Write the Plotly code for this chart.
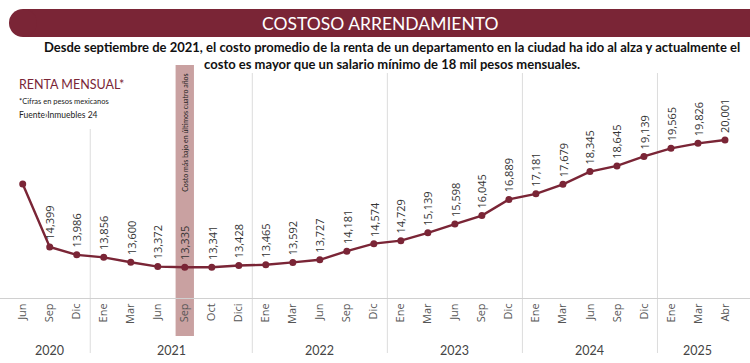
import plotly.graph_objects as go

months = ["Jun", "Sep", "Dic",
          "Ene", "Mar", "Jun", "Sep", "Oct", "Dici",
          "Ene", "Mar", "Jun", "Sep", "Dic",
          "Ene", "Mar", "Jun", "Sep", "Dic",
          "Ene", "Mar", "Jun", "Sep", "Dic",
          "Ene", "Mar", "Abr"]
years = ["2020"] * 3 + ["2021"] * 6 + ["2022"] * 5 + ["2023"] * 5 + ["2024"] * 5 + ["2025"] * 3
rent = [17700, 14399, 13986,
        13856, 13600, 13372, 13335, 13341, 13428,
        13465, 13592, 13727, 14181, 14574,
        14729, 15139, 15598, 16045, 16889,
        17181, 17679, 18345, 18645, 19139,
        19565, 19826, 20001]
show_label = [False] + [True] * 26
lowest_idx = 6
lowest_note = "Costo más bajo en últimos cuatro años"

MAROON = "#7A2536"
x = list(range(len(months)))

# plot area geometry (pixels)
W, H = 750, 363
T, B = 60, 65
PH = H - T - B


def py(px):
    """pixel y -> paper y"""
    return (H - B - px) / PH


fig = go.Figure()
fig.add_trace(go.Scatter(
    x=x, y=rent, mode="lines+markers",
    line=dict(color=MAROON, width=2.4),
    marker=dict(color=MAROON, size=7),
    hoverinfo="skip", showlegend=False,
))

annotations = []
for xi, v, s in zip(x, rent, show_label):
    if not s:
        continue
    annotations.append(dict(
        x=xi, y=v, xref="x", yref="y", text=f"{v:,}", textangle=-90,
        showarrow=False, yanchor="bottom", xanchor="center", yshift=5,
        font=dict(family="Open Sans", size=11, color="#333333"),
    ))

# year labels and separators
shapes = []
groups = []
for i, yv in enumerate(years):
    if not groups or groups[-1][0] != yv:
        groups.append([yv, i, i])
    else:
        groups[-1][2] = i
for gi, (yv, a, b) in enumerate(groups):
    annotations.append(dict(
        x=(a + b) / 2, y=py(350), xref="x", yref="paper", text=yv,
        showarrow=False, xanchor="center", yanchor="middle",
        font=dict(family="Lato", size=12.5, color="#444444"),
    ))
    if gi > 0:
        top = py(129) if gi == 1 else py(73)
        shapes.append(dict(type="line", xref="x", yref="paper",
                           x0=a - 0.5, x1=a - 0.5, y0=py(353), y1=top,
                           line=dict(color="#dcdcdc", width=1), layer="below"))

# highlight of lowest cost
shapes.append(dict(type="rect", xref="x", yref="paper",
                   x0=lowest_idx - 0.34, x1=lowest_idx + 0.34,
                   y0=py(336), y1=py(65), fillcolor="#C9A1A1",
                   line=dict(width=0), layer="below"))
annotations.append(dict(
    x=lowest_idx, y=py(133), xref="x", yref="paper", text=lowest_note,
    textangle=-90, showarrow=False, xanchor="center", yanchor="middle",
    font=dict(family="Lato", size=7, color="#222222"),
))

# title bar
shapes.append(dict(type="rect", xref="paper", yref="paper",
                   x0=23 / W, x1=1.0, y0=py(37), y1=py(9),
                   fillcolor=MAROON, line=dict(width=0)))
shapes.append(dict(type="circle", xref="paper", yref="paper",
                   x0=9 / W, x1=37 / W, y0=py(37), y1=py(9),
                   fillcolor=MAROON, line=dict(width=0)))
annotations.append(dict(
    x=380 / W, y=py(23), xref="paper", yref="paper",
    text="COSTOSO ARRENDAMIENTO", showarrow=False,
    xanchor="center", yanchor="middle",
    font=dict(family="Lato", size=17.5, color="white"),
))
annotations.append(dict(
    x=392 / W, y=py(55), xref="paper", yref="paper",
    text="<b>Desde septiembre de 2021, el costo promedio de la renta de un departamento en la ciudad ha ido al alza y actualmente el</b><br>"
         "<b>costo es mayor que un salario mínimo de 18 mil pesos mensuales.</b>",
    showarrow=False, xanchor="center", yanchor="middle", align="center",
    font=dict(family="Lato", size=13, color="#111111"),
))
annotations.append(dict(
    x=17 / W, y=py(85), xref="paper", yref="paper", text="RENTA MENSUAL*",
    showarrow=False, xanchor="left", yanchor="middle",
    font=dict(family="Lato", size=12.5, color=MAROON),
))
annotations.append(dict(
    x=17 / W, y=py(101), xref="paper", yref="paper", text="*Cifras en pesos mexicanos",
    showarrow=False, xanchor="left", yanchor="middle",
    font=dict(family="Lato", size=7.5, color="#222222"),
))
annotations.append(dict(
    x=17 / W, y=py(115), xref="paper", yref="paper", text="Fuente›Inmuebles 24",
    showarrow=False, xanchor="left", yanchor="middle",
    font=dict(family="Lato", size=8.5, color="#222222"),
))

x0 = -22.7 / 27
x1 = (len(months) - 1) + 25 / 27
scale = 0.0191  # px per peso
y_bottom = 13335 - (298 - 267.3) / scale
y_top = y_bottom + PH / scale

fig.update_layout(
    width=W, height=H, autosize=False,
    margin=dict(l=0, r=0, t=T, b=B),
    paper_bgcolor="white", plot_bgcolor="white",
    xaxis=dict(range=[x0, x1], tickvals=x, ticktext=months, tickangle=-90,
               showgrid=False, zeroline=False, ticks="", showline=True,
               linecolor="#d0d0d0", linewidth=1,
               tickfont=dict(family="Open Sans", size=11, color="#555555")),
    yaxis=dict(range=[y_bottom, y_top], visible=False),
    shapes=shapes, annotations=annotations,
)

fig.write_html("out.html", config={"displayModeBar": False},
               post_script="document.body.style.margin='0';document.body.style.overflow='hidden';")
